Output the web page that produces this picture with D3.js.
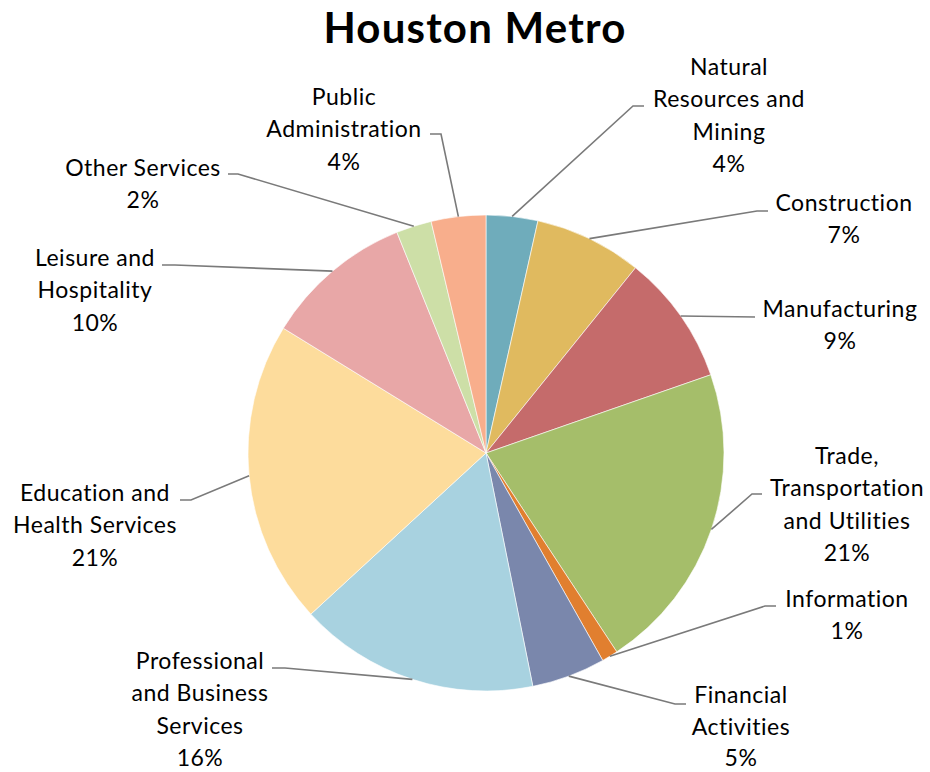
<!DOCTYPE html>
<html>
<head>
<meta charset="utf-8">
<script src="https://cdn.jsdelivr.net/npm/d3@7"></script>
<style>
  body { margin: 0; background: #fff; }
  svg text { font-family: Lato, "Open Sans", sans-serif; fill: #000; }
</style>
</head>
<body>
<svg id="chart" width="930" height="772"></svg>
<script>
// sector shares (percent of employment)
const sectors = [
    "Natural Resources and Mining", "Construction", "Manufacturing",
    "Trade, Transportation and Utilities", "Information", "Financial Activities",
    "Professional and Business Services", "Education and Health Services",
    "Leisure and Hospitality", "Other Services", "Public Administration"
]
const shares = [3.5, 7.3, 8.85, 21.05, 1.1, 5.0, 16.3, 20.6, 10.1, 2.4, 3.7]
const pctLabels = ["4%", "7%", "9%", "21%", "1%", "5%", "16%", "21%", "10%", "2%", "4%"]
// how each label is broken into lines
const labelLines = [
    ["Natural", "Resources and", "Mining"],
    ["Construction"],
    ["Manufacturing"],
    ["Trade,", "Transportation", "and Utilities"],
    ["Information"],
    ["Financial", "Activities"],
    ["Professional", "and Business", "Services"],
    ["Education and", "Health Services"],
    ["Leisure and", "Hospitality"],
    ["Other Services"],
    ["Public", "Administration"]
]
const colors = ["#6FACBB", "#E0BA5F", "#C56B6B", "#A5BE6A", "#E17F2F", "#7A87AC",
    "#A8D2E0", "#FDDC9C", "#E8A7A7", "#CDDFA7", "#F8AE8C"]

// label placement: text centre x, first line centre y, leader start + elbow
const layout = [
    {x: 729, y: 66,  start: [644, 106], elbow: [633, 106]},
    {x: 844, y: 202, start: [768, 211], elbow: [757, 211]},
    {x: 840, y: 308, start: [755, 317], elbow: [755, 317]},
    {x: 847, y: 455, start: [762, 494], elbow: [752, 494]},
    {x: 847, y: 598, start: [776, 606], elbow: [765, 606]},
    {x: 741, y: 694, start: [686, 704], elbow: [675, 704]},
    {x: 200, y: 660, start: [272, 668], elbow: [285, 668]},
    {x: 95,  y: 492, start: [180, 500], elbow: [191, 500]},
    {x: 95,  y: 257, start: [162, 265], elbow: [175, 265]},
    {x: 143, y: 167, start: [228, 174], elbow: [238, 174]},
    {x: 344, y: 96,  start: [430, 134], elbow: [441, 134]}
]

const dimensions = {width: 930, height: 772, cx: 486, cy: 453, radius: 238, lineHeight: 32.3}

const svg = d3.select('#chart')

// title
svg.append('text')
    .attr('x', 475)
    .attr('y', 27)
    .attr('text-anchor', 'middle')
    .attr('dominant-baseline', 'central')
    .style('font-size', '42px')
    .style('font-weight', 'bold')
    .style('letter-spacing', '1.2px')
    .text('Houston Metro')

const data = sectors.map((name, i) => ({name, value: shares[i], pct: pctLabels[i], lines: labelLines[i], color: colors[i], pos: layout[i]}))

const pie = d3.pie().value(d => d.value).sort(null)
const arc = d3.arc().innerRadius(0).outerRadius(dimensions.radius)
const arcs = pie(data)

const graph = svg.append('g')
    .attr('transform', `translate(${dimensions.cx}, ${dimensions.cy})`)

graph.selectAll('.slice')
    .data(arcs)
    .enter().append('path')
    .attr('class', 'slice')
    .attr('fill', d => d.data.color)
    .attr('stroke', '#fff')
    .attr('stroke-width', 0.6)
    .attr('d', arc)

// leader lines: label -> elbow -> arc midpoint on the rim
const rimPoint = d => {
    const a = (d.startAngle + d.endAngle) / 2
    return [dimensions.cx + dimensions.radius * Math.sin(a), dimensions.cy - dimensions.radius * Math.cos(a)]
}
svg.selectAll('.leader')
    .data(arcs)
    .enter().append('polyline')
    .attr('class', 'leader')
    .attr('fill', 'none')
    .attr('stroke', '#7a7a7a')
    .attr('stroke-width', 1.6)
    .attr('points', d => [d.data.pos.start, d.data.pos.elbow, rimPoint(d)].map(p => p.join(',')).join(' '))

// labels
const labels = svg.selectAll('.label')
    .data(arcs)
    .enter().append('text')
    .attr('class', 'label')
    .attr('text-anchor', 'middle')
    .style('font-size', '23px')
    .style('letter-spacing', '0.5px')

labels.each(function (d) {
    const lines = d.data.lines.concat([d.data.pct])
    d3.select(this).selectAll('tspan')
        .data(lines)
        .enter().append('tspan')
        .attr('x', d.data.pos.x)
        .attr('y', (l, i) => d.data.pos.y + i * (d.data.name === "Financial Activities" ? 31.5 : dimensions.lineHeight))
        .attr('dominant-baseline', 'central')
        .text(l => l)
})
</script>
</body>
</html>
